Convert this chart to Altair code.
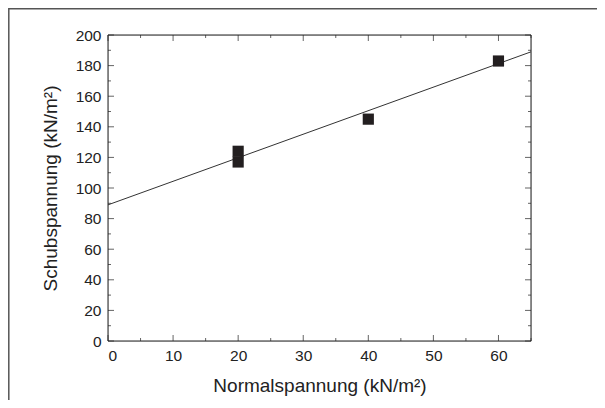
import altair as alt
import pandas as pd

# Measured points
pts_x = [20, 20, 40, 60]
pts_y = [117, 124, 145, 183]

# Regression line end points
line_x = [0, 65]
line_y = [89, 189]

# Tick positions
x_major = [0, 10, 20, 30, 40, 50, 60]
x_minor = [5, 15, 25, 35, 45, 55, 65]
y_major = [0, 20, 40, 60, 80, 100, 120, 140, 160, 180, 200]
y_minor = [10, 30, 50, 70, 90, 110, 130, 150, 170, 190]

W, H = 423, 306
FONT = "Liberation Sans"
INK = "#222222"

xscale = alt.Scale(domain=[0, 65], nice=False, zero=False)
yscale = alt.Scale(domain=[0, 200], nice=False, zero=False)

xaxis = alt.Axis(values=x_major, domain=False, ticks=False, grid=False, zindex=2,
                 labelPadding=7, labelFontSize=15.5, labelFont=FONT, labelColor=INK,
                 title="Normalspannung (kN/m²)", titleFont=FONT, titleFontSize=19,
                 titleFontWeight="normal", titleColor=INK, titlePadding=13)
yaxis = alt.Axis(values=y_major, domain=False, ticks=False, grid=False, zindex=2,
                 labelPadding=7, labelFontSize=15.5, labelFont=FONT, labelColor=INK,
                 title="Schubspannung (kN/m²)", titleFont=FONT, titleFontSize=19,
                 titleFontWeight="normal", titleColor=INK, titlePadding=15)

X = lambda: alt.X("x:Q", scale=xscale, axis=xaxis)
Y = lambda: alt.Y("y:Q", scale=yscale, axis=yaxis)

one = pd.DataFrame({"a": [0]})

border_top = alt.Chart(one).mark_rule(color="#555555", strokeWidth=1.5).encode(
    x=alt.value(-99), x2=alt.value(W + 80), y=alt.value(-26.2))
border_left = alt.Chart(one).mark_rule(color="#555555", strokeWidth=1.5).encode(
    x=alt.value(-99.2), y=alt.value(-27), y2=alt.value(H + 80))

frame = alt.Chart(one).mark_rect(fill=None, stroke=INK, strokeWidth=1).encode(
    x=alt.value(0), x2=alt.value(W), y=alt.value(0), y2=alt.value(H))

dxM = pd.DataFrame({"x": x_major})
dxm = pd.DataFrame({"x": x_minor})
dyM = pd.DataFrame({"y": y_major})
dym = pd.DataFrame({"y": y_minor})

def xt(df, size, ypix):
    return alt.Chart(df).mark_tick(orient="vertical", size=size, thickness=1, color=INK).encode(
        x=X(), y=alt.value(ypix))

def yt(df, size, xpix):
    return alt.Chart(df).mark_tick(orient="horizontal", size=size, thickness=1, color=INK).encode(
        y=Y(), x=alt.value(xpix))

ticks = [
    xt(dxM, 6, H - 3), xt(dxM, 6, 3),
    xt(dxm, 3, H - 1.5), xt(dxm, 3, 1.5),
    yt(dyM, 6, 3), yt(dyM, 6, W - 3),
    yt(dym, 3, 1.5), yt(dym, 3, W - 1.5),
]

line = alt.Chart(pd.DataFrame({"x": line_x, "y": line_y})).mark_line(
    color="#333333", strokeWidth=1).encode(x=X(), y=Y())

points = alt.Chart(pd.DataFrame({"x": pts_x, "y": pts_y})).mark_square(
    size=125, color="#231f20", opacity=1).encode(x=X(), y=Y())

chart = alt.layer(border_top, border_left, frame, *ticks, line, points).properties(
    width=W, height=H,
    padding={"left": 100, "top": 27, "right": 66, "bottom": 59},
    autosize=alt.AutoSizeParams(type="none"),
).configure_view(stroke=None).configure(background="white")

chart.save("out.html", embed_options={"renderer": "svg", "actions": False})
